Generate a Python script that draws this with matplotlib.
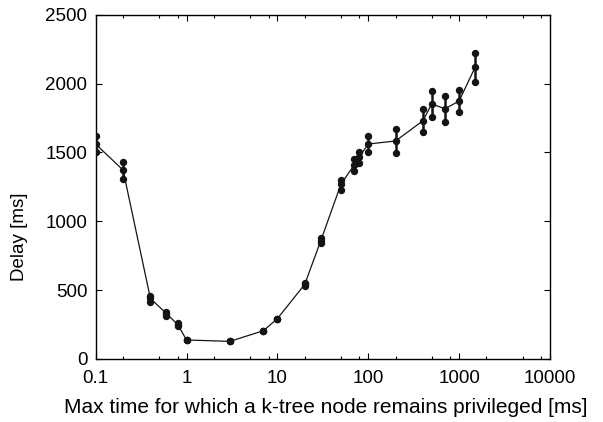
import matplotlib
matplotlib.use('Agg')
import matplotlib.pyplot as plt
from matplotlib.ticker import LogLocator, NullFormatter, FuncFormatter
import numpy as np

# data
max_time = [0.1, 0.2, 0.4, 0.6, 0.8, 1, 3, 7, 10, 20, 30, 50, 70, 80, 100, 200, 400, 500, 700, 1000, 1500]
delay_mean = [1560, 1372, 440, 330, 250, 138, 128, 205, 293, 542, 858, 1268, 1409, 1469, 1561, 1583, 1730, 1852, 1817, 1873, 2118]
delay_low = [1501, 1307, 416, 312, 240, 138, 128, 205, 293, 530, 840, 1227, 1365, 1425, 1501, 1498, 1646, 1755, 1723, 1796, 2013]
delay_high = [1619, 1433, 460, 343, 259, 138, 128, 205, 293, 554, 876, 1300, 1452, 1505, 1621, 1668, 1813, 1946, 1910, 1951, 2220]

plt.rcParams['font.family'] = ['Liberation Sans', 'DejaVu Sans']

fig = plt.figure(figsize=(6.03, 4.22), dpi=100)
ax = fig.add_axes([0.1587, 0.1493, 0.912 - 0.1587, 0.9652 - 0.1493])

x = np.array(max_time)
m = np.array(delay_mean)
lo = np.array(delay_low)
hi = np.array(delay_high)

# vertical bars
ax.vlines(x, lo, hi, color='#141414', linewidth=1.8, zorder=2)
# connecting line through means
ax.plot(x, m, color='#141414', linewidth=0.9, zorder=2)
# dots at min, mean, max
for arr in (lo, m, hi):
    ax.plot(x, arr, 'o', color='#141414', markersize=4.3, zorder=3)

ax.set_xscale('log')
ax.set_xlim(0.1, 10000)
ax.set_ylim(0, 2500)
ax.set_yticks([0, 500, 1000, 1500, 2000, 2500])
ax.xaxis.set_major_locator(LogLocator(base=10))
ax.xaxis.set_minor_locator(LogLocator(base=10, subs=[2, 5, 8]))
ax.xaxis.set_minor_formatter(NullFormatter())
ax.xaxis.set_major_formatter(FuncFormatter(lambda v, p: '%g' % v))

ax.tick_params(which='both', direction='in', top=True, right=True, labelsize=13.5, width=0.8)
ax.tick_params(axis='x', which='major', length=4.5, pad=8)
ax.tick_params(axis='y', which='major', length=4.5, pad=6)
ax.tick_params(which='minor', length=2.5)
for s in ax.spines.values():
    s.set_linewidth(1.0)

ax.set_xlabel('Max time for which a k-tree node remains privileged [ms]', fontsize=15)
ax.set_ylabel('Delay [ms]', fontsize=13.5)
ax.xaxis.set_label_coords(0.506, -0.113)
ax.yaxis.set_label_coords(-0.149, 0.354)

fig.savefig('out.png', dpi=100)
